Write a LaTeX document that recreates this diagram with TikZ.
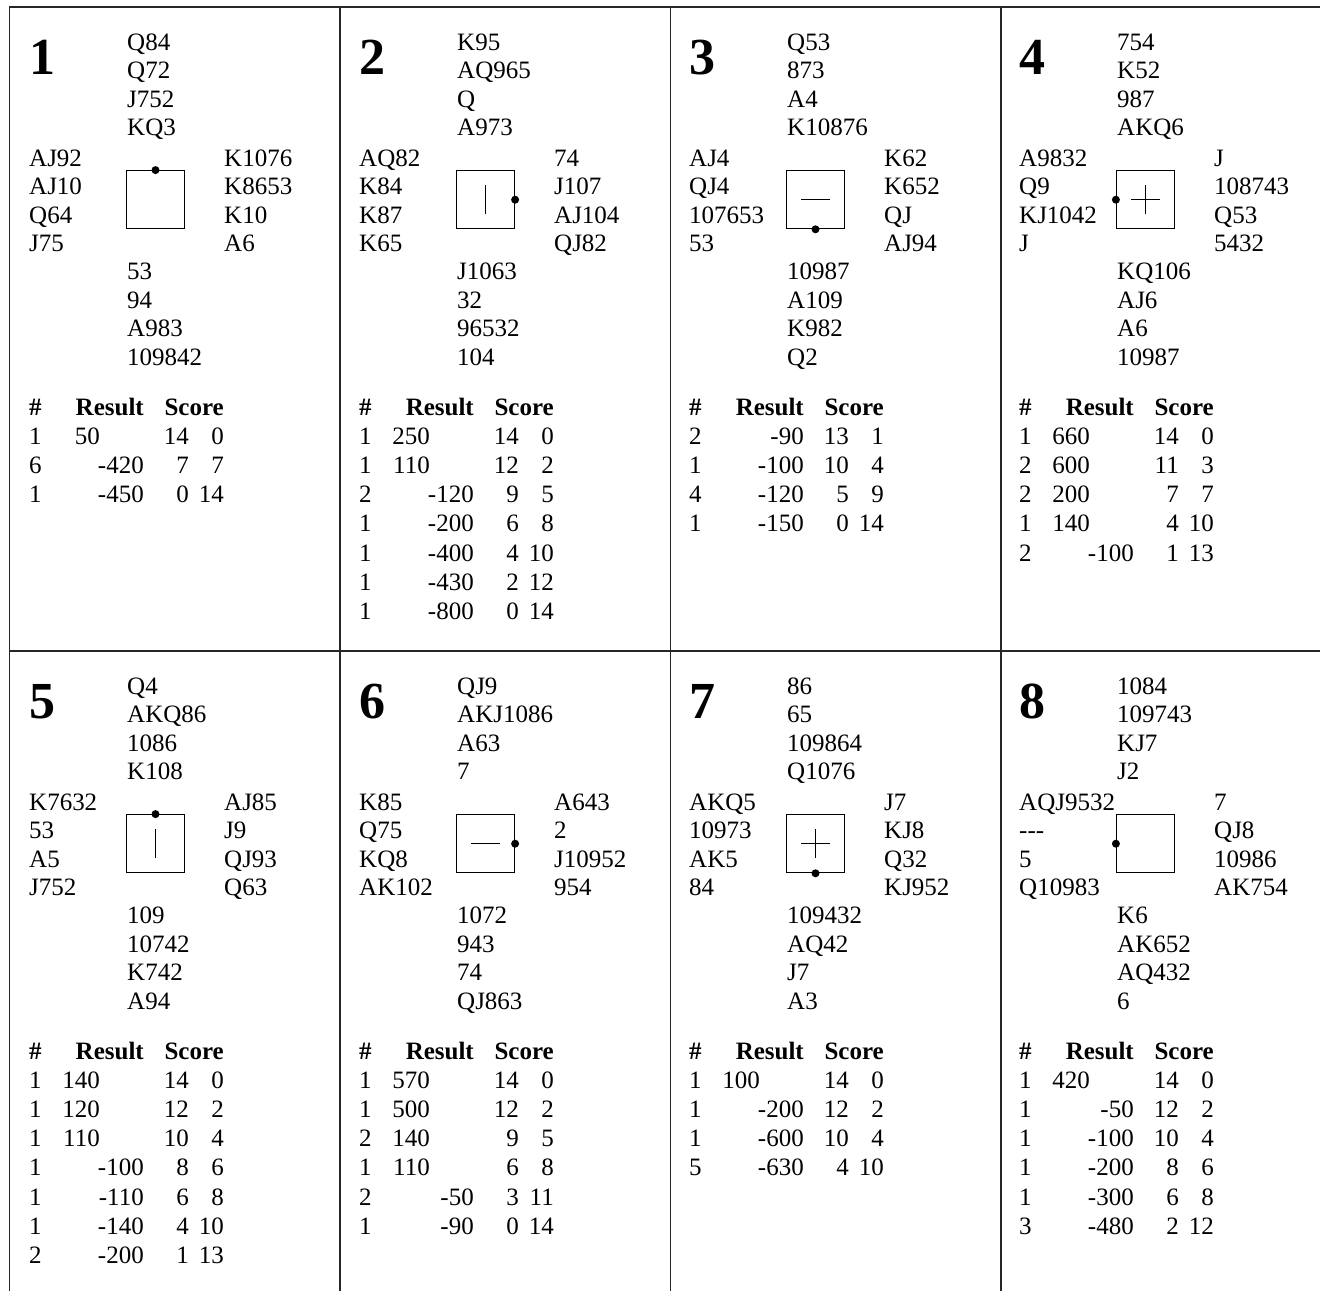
\documentclass[tikz,border=0pt]{standalone}
\usepackage{fontspec}
\setmainfont{Liberation Serif}
\tikzset{
  txt/.style={anchor=base west, inner sep=0pt, font=\fontsize{25}{29}\selectfont},
  txtr/.style={anchor=base east, inner sep=0pt, font=\fontsize{25}{29}\selectfont},
  hdrl/.style={anchor=base west, inner sep=0pt, font=\fontsize{25}{29}\selectfont\bfseries},
  hdrr/.style={anchor=base east, inner sep=0pt, font=\fontsize{25}{29}\selectfont\bfseries},
  bnum/.style={anchor=base west, inner sep=0pt, font=\fontsize{52}{60}\selectfont\bfseries},
  gridline/.style={line width=1.3pt, draw=black!85},
  cbox/.style={draw=black, line width=1.2pt, minimum size=58pt, inner sep=0pt},
  cdot/.style={circle, fill=black, inner sep=0pt, minimum size=8pt},
  symline/.style={draw=black, line width=1pt},
}
\newcommand\tdash{-\kern0pt-\kern0pt-}
% hands: #1 id, #2 N, #3 W, #4 E, #5 S
\newcommand\Hands[5]{%
  \foreach \t [count=\i] in {#2} \node[txt] (#1n\i) at (117, {43+28.5*(\i-1)}) {\t};
  \foreach \t [count=\i] in {#3} \node[txt] (#1w\i) at (19, {159.5+28.4*(\i-1)}) {\t};
  \foreach \t [count=\i] in {#4} \node[txt] (#1e\i) at (214, {159.5+28.4*(\i-1)}) {\t};
  \foreach \t [count=\i] in {#5} \node[txt] (#1s\i) at (117, {272.5+28.5*(\i-1)}) {\t};
}
% compass box: #1 id, #2 dot anchor, #3 symbol
\newcommand\Compass[3]{%
  \node[cbox] (#1box) at (145.5,192.7) {};
  \node[cdot] (#1dot) at (#1box.#2) {};
  #3
}
\newcommand\symV[1]{\draw[symline] ([yshift=14.5pt]#1box.center) coordinate (#1va) -- ([yshift=-14.5pt]#1box.center) coordinate (#1vb);}
\newcommand\symH[1]{\draw[symline] ([xshift=-14.5pt]#1box.center) coordinate (#1ha) -- ([xshift=14.5pt]#1box.center) coordinate (#1hb);}
\newcommand\symP[1]{\symV{#1}\symH{#1}}
% table: #1 id, #2 rows
\newcommand\Rows[2]{%
  \node[hdrl] (#1hh) at (19,408) {\#};
  \node[hdrr] (#1hr) at (134,408) {Result};
  \node[hdrr] (#1hs) at (214,408) {Score};
  \foreach \c/\res/\rx/\sa/\sb [count=\k] in {#2} {
    \node[txt] (#1c\k) at (19, {408+29.2*\k}) {\c};
    \node[txtr] (#1r\k) at (\rx, {408+29.2*\k}) {\res};
    \node[txtr] (#1p\k) at (179, {408+29.2*\k}) {\sa};
    \node[txtr] (#1q\k) at (214, {408+29.2*\k}) {\sb};
  }
}
\begin{document}
\begin{tikzpicture}[x=1pt,y=-1pt]
\useasboundingbox (0,0) rectangle (1320,1291);
% grid
\draw[gridline] (9.5,1291) -- (9.5,7) -- (1320,7);
\draw[gridline] (9.5,651) -- (1320,651);
\draw[gridline] (340,7) -- (340,1291);
\draw[gridline] (670.5,7) -- (670.5,1291);
\draw[gridline] (1001,7) -- (1001,1291);

% Board 1
\begin{scope}[shift={(10,7)}]
\node[bnum] (b1num) at (19,67) {1};
\Hands{b1}{Q84,Q72,J752,KQ3}{AJ92,AJ10,Q64,J75}{K1076,K8653,K10,A6}{53,94,A983,109842}
\Compass{b1}{north}{}
\Rows{b1}{1/50/90/14/0, 6/-420/134/7/7, 1/-450/134/0/14}
\end{scope}

% Board 2
\begin{scope}[shift={(340,7)}]
\node[bnum] (b2num) at (19,67) {2};
\Hands{b2}{K95,AQ965,Q,A973}{AQ82,K84,K87,K65}{74,J107,AJ104,QJ82}{J1063,32,96532,104}
\Compass{b2}{east}{\symV{b2}}
\Rows{b2}{1/250/90/14/0, 1/110/90/12/2, 2/-120/134/9/5, 1/-200/134/6/8, 1/-400/134/4/10, 1/-430/134/2/12, 1/-800/134/0/14}
\end{scope}

% Board 3
\begin{scope}[shift={(670,7)}]
\node[bnum] (b3num) at (19,67) {3};
\Hands{b3}{Q53,873,A4,K10876}{AJ4,QJ4,107653,53}{K62,K652,QJ,AJ94}{10987,A109,K982,Q2}
\Compass{b3}{south}{\symH{b3}}
\Rows{b3}{2/-90/134/13/1, 1/-100/134/10/4, 4/-120/134/5/9, 1/-150/134/0/14}
\end{scope}

% Board 4
\begin{scope}[shift={(1000,7)}]
\node[bnum] (b4num) at (19,67) {4};
\Hands{b4}{754,K52,987,AKQ6}{A9832,Q9,KJ1042,J}{J,108743,Q53,5432}{KQ106,AJ6,A6,10987}
\Compass{b4}{west}{\symP{b4}}
\Rows{b4}{1/660/90/14/0, 2/600/90/11/3, 2/200/90/7/7, 1/140/90/4/10, 2/-100/134/1/13}
\end{scope}

% Board 5
\begin{scope}[shift={(10,651)}]
\node[bnum] (b5num) at (19,67) {5};
\Hands{b5}{Q4,AKQ86,1086,K108}{K7632,53,A5,J752}{AJ85,J9,QJ93,Q63}{109,10742,K742,A94}
\Compass{b5}{north}{\symV{b5}}
\Rows{b5}{1/140/90/14/0, 1/120/90/12/2, 1/110/90/10/4, 1/-100/134/8/6, 1/-110/134/6/8, 1/-140/134/4/10, 2/-200/134/1/13}
\end{scope}

% Board 6
\begin{scope}[shift={(340,651)}]
\node[bnum] (b6num) at (19,67) {6};
\Hands{b6}{QJ9,AKJ1086,A63,7}{K85,Q75,KQ8,AK102}{A643,2,J10952,954}{1072,943,74,QJ863}
\Compass{b6}{east}{\symH{b6}}
\Rows{b6}{1/570/90/14/0, 1/500/90/12/2, 2/140/90/9/5, 1/110/90/6/8, 2/-50/134/3/11, 1/-90/134/0/14}
\end{scope}

% Board 7
\begin{scope}[shift={(670,651)}]
\node[bnum] (b7num) at (19,67) {7};
\Hands{b7}{86,65,109864,Q1076}{AKQ5,10973,AK5,84}{J7,KJ8,Q32,KJ952}{109432,AQ42,J7,A3}
\Compass{b7}{south}{\symP{b7}}
\Rows{b7}{1/100/90/14/0, 1/-200/134/12/2, 1/-600/134/10/4, 5/-630/134/4/10}
\end{scope}

% Board 8
\begin{scope}[shift={(1000,651)}]
\node[bnum] (b8num) at (19,67) {8};
\Hands{b8}{1084,109743,KJ7,J2}{AQJ9532,\tdash,5,Q10983}{7,QJ8,10986,AK754}{K6,AK652,AQ432,6}
\Compass{b8}{west}{}
\Rows{b8}{1/420/90/14/0, 1/-50/134/12/2, 1/-100/134/10/4, 1/-200/134/8/6, 1/-300/134/6/8, 3/-480/134/2/12}
\end{scope}
\end{tikzpicture}
\end{document}
